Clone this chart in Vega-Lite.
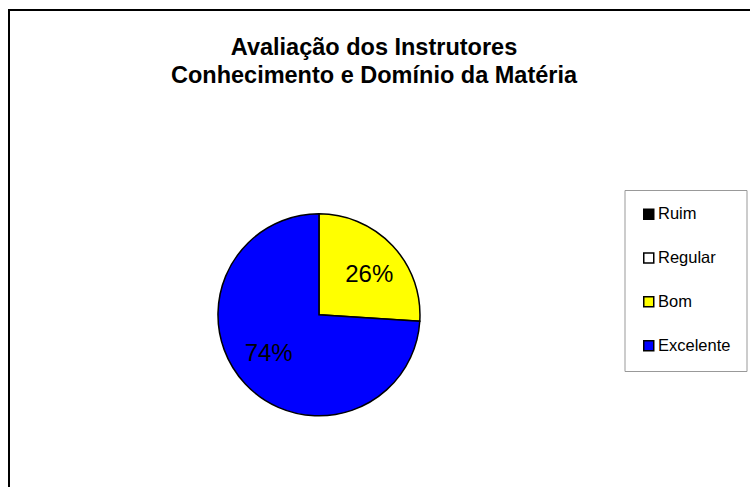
{
  "$schema": "https://vega.github.io/schema/vega-lite/v6.json",
  "width": 750,
  "height": 487,
  "autosize": "none",
  "padding": {"left": 9, "top": 10, "right": 0, "bottom": 0},
  "background": "white",
  "title": {
    "text": ["Avaliação dos Instrutores", "Conhecimento e Domínio da Matéria"],
    "font": "Liberation Sans",
    "fontSize": 23.5,
    "fontWeight": "bold",
    "color": "black",
    "anchor": "middle",
    "dx": -10,
    "offset": -77,
    "lineHeight": 28
  },
  "data": {
    "values": [
      {"cat": "Ruim", "pct": 0, "ord": 1},
      {"cat": "Regular", "pct": 0, "ord": 2},
      {"cat": "Bom", "pct": 0.26, "ord": 3},
      {"cat": "Excelente", "pct": 0.74, "ord": 4}
    ]
  },
  "encoding": {
    "theta": {"field": "pct", "type": "quantitative", "stack": true},
    "order": {"field": "ord", "type": "quantitative"},
    "x": {"datum": 0.4133, "type": "quantitative", "scale": {"domain": [0, 1]}, "axis": null},
    "y": {"datum": 0.626, "type": "quantitative", "scale": {"domain": [0, 1], "reverse": true}, "axis": null}
  },
  "layer": [
    {
      "mark": {"type": "arc", "outerRadius": 101, "stroke": "black", "strokeWidth": 1.5},
      "encoding": {
        "color": {
          "field": "cat",
          "type": "nominal",
          "scale": {"domain": ["Ruim", "Regular", "Bom", "Excelente"], "range": ["#000000", "#FFFFFF", "#FFFF00", "#0000FF"]},
          "legend": {
            "orient": "none",
            "legendX": 615.5,
            "legendY": 180,
            "title": null,
            "symbolType": "square",
            "symbolSize": 100,
            "symbolStrokeColor": "black",
            "symbolStrokeWidth": 1.5,
            "symbolOpacity": 1,
            "labelFont": "Liberation Sans",
            "labelFontSize": 16.5,
            "labelColor": "black",
            "labelOffset": 1,
            "rowPadding": 26.8,
            "padding": 16,
            "strokeColor": "#999999"
          }
        }
      }
    },
    {
      "transform": [{"filter": "datum.pct > 0"}],
      "mark": {"type": "text", "radius": 64, "thetaOffset": 0.087, "fontSize": 24, "font": "Liberation Sans", "color": "black"},
      "encoding": {
        "text": {"field": "pct", "type": "quantitative", "format": ".0%"}
      }
    }
  ],
  "config": {
    "view": {"stroke": "black", "strokeWidth": 2}
  }
}
